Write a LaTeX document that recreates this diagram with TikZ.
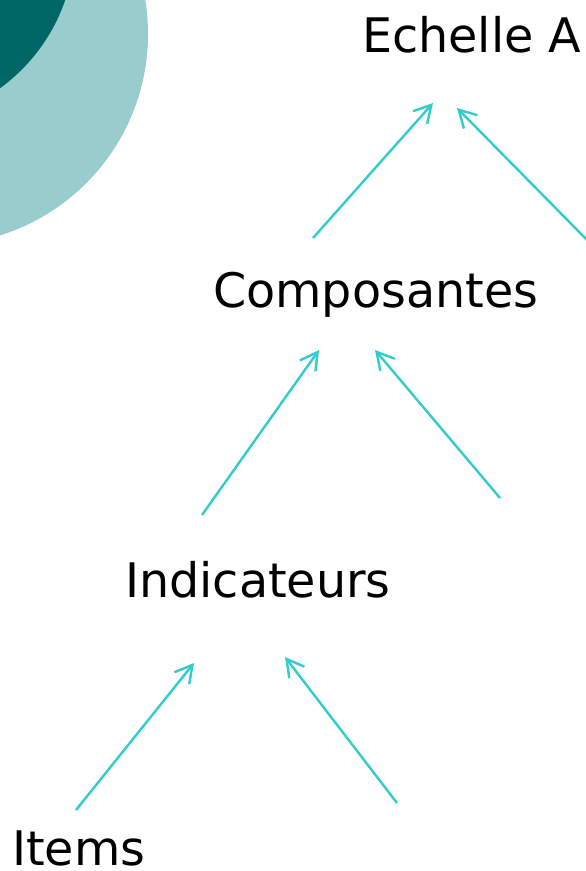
\documentclass[tikz,border=0pt]{standalone}
\usepackage{fontspec}
\setmainfont{DejaVu Sans}
\usetikzlibrary{arrows.meta}
\definecolor{tealdark}{HTML}{006666}
\definecolor{teallight}{HTML}{99CCCC}
\definecolor{turq}{HTML}{33CCCC}

\begin{document}
\begin{tikzpicture}[
		x=1pt, y=-1pt,
		tier/.style={
			inner sep=0pt, anchor=base west,
			font=\fontsize{47.6}{56}\selectfont
		},
		link/.style={draw=turq, line width=2.4pt, -{Straight Barb[length=17pt,width=19pt]}}
		]
		
		\useasboundingbox (0,0) rectangle (586,871);
		
		% corner decoration
		\begin{scope}
			\clip (0,0) rectangle (586,871);
			\fill[teallight] (-63,34) circle [radius=211pt];
			\fill[tealdark] (-107,-59) circle [radius=182pt];
		\end{scope}
		
		\node[tier] (echelle) at (362,52) {Echelle A};
		\node[tier] (comp) at (213,307) {Composantes};
		\node[tier] (indic) at (125,597) {Indicateurs};
		\node[tier] (items) at (12,865) {Items};
		
		% arrow ends
		\coordinate (e1) at (433,103);
		\coordinate (e2) at (457,108);
		\coordinate (c1) at (313,238);
		\coordinate (c2) at (590,243);
		\coordinate (c3) at (319,350);
		\coordinate (c4) at (375,350);
		\coordinate (i1) at (202,515);
		\coordinate (i2) at (500,498);
		\coordinate (i3) at (194,663);
		\coordinate (i4) at (285,657);
		\coordinate (t1) at (76,810);
		\coordinate (t2) at (397,803);
		
		\draw[link] (c1) -- (e1);
		\draw[link] (c2) -- (e2);
		\draw[link] (i1) -- (c3);
		\draw[link] (i2) -- (c4);
		\draw[link] (t1) -- (i3);
		\draw[link] (t2) -- (i4);
	\end{tikzpicture}
\end{document}
